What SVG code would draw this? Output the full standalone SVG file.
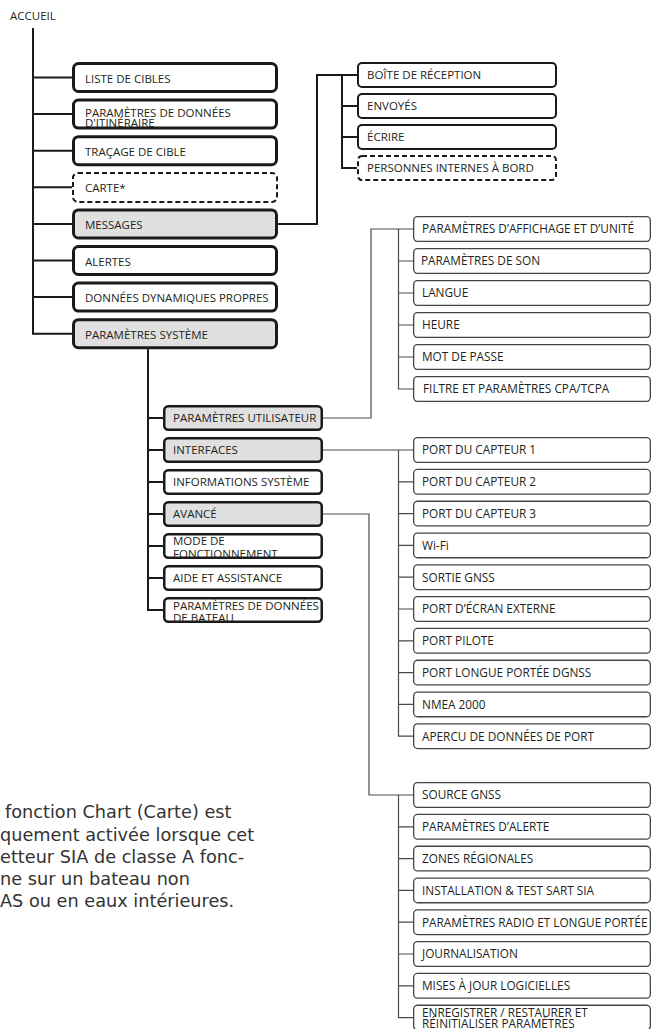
<svg xmlns="http://www.w3.org/2000/svg" width="652" height="1029" viewBox="0 0 652 1029">
<style>
.lbl{font-family:"Open Sans","Noto Sans",sans-serif;font-size:11.5px;fill:#231f20}
.rl{font-family:"Open Sans","Noto Sans",sans-serif;font-size:11.8px;fill:#231f20}
.note{font-family:"DejaVu Sans","Open Sans",sans-serif;font-size:17.7px;fill:#333333}
.mb{fill:#ffffff;stroke:#1a1a1a;stroke-width:3}
.mg{fill:#e0e0e1;stroke:#1a1a1a;stroke-width:3}
.md{fill:#ffffff;stroke:#1a1a1a;stroke-width:2;stroke-dasharray:5 3}
.sb{fill:#ffffff;stroke:#1a1a1a;stroke-width:2}
.sd{fill:#ffffff;stroke:#1a1a1a;stroke-width:2;stroke-dasharray:5 3}
.yb{fill:#ffffff;stroke:#1a1a1a;stroke-width:2.5}
.yg{fill:#e0e0e1;stroke:#1a1a1a;stroke-width:2.5}
.rb{fill:#ffffff;stroke:#444444;stroke-width:1.3}
.ck{fill:none;stroke:#1a1a1a;stroke-width:2}
.cg{fill:none;stroke:#4a4a4a;stroke-width:1.2}
</style>
<g id="connectors">
<path class="ck" d="M33 28V333.7H72M33 77.5H72M33 114.1H72M33 150.7H72M33 187.3H72M33 223.9H72M33 260.5H72M33 297.1H72"/>
<path class="ck" d="M278 223.9H317V75H357M342 75V168H357M342 106H357M342 137H357"/>
<path class="ck" d="M148 349.2V610H163M148 418H163M148 450H163M148 482H163M148 514H163M148 546H163M148 578H163"/>
<path class="cg" d="M323 418H371V229H413M398.5 229V389H413M398.5 261H413M398.5 293H413M398.5 325H413M398.5 357H413"/>
<path class="cg" d="M323 450H413M398.5 450V736.2H413M398.5 481.8H413M398.5 513.6H413M398.5 545.4H413M398.5 577.2H413M398.5 609H413M398.5 640.8H413M398.5 672.6H413M398.5 704.4H413"/>
<path class="cg" d="M323 514H369V795H413M398.5 795V1017.6H413M398.5 826.8H413M398.5 858.6H413M398.5 890.4H413M398.5 922.2H413M398.5 954H413M398.5 985.8H413"/>
</g>
<g id="accueil"><text class="lbl" x="10" y="20">ACCUEIL</text></g>
<g id="liste-cibles"><rect class="mb" x="73.5" y="63.5" width="203" height="28" rx="5"/><text class="lbl" x="85" y="82.5">LISTE DE CIBLES</text></g>
<g id="param-itineraire"><rect class="mb" x="73.5" y="100.1" width="203" height="28" rx="5"/><text class="lbl" x="85" y="116.5">PARAMÈTRES DE DONNÉES<tspan x="85" y="126.5">D'ITINÉRAIRE</tspan></text></g>
<g id="tracage"><rect class="mb" x="73.5" y="136.7" width="203" height="28" rx="5"/><text class="lbl" x="85" y="155.7">TRAÇAGE DE CIBLE</text></g>
<g id="carte"><rect class="md" x="73" y="173" width="204" height="29" rx="5"/><text class="lbl" x="85" y="192.3">CARTE*</text></g>
<g id="messages"><rect class="mg" x="73.5" y="209.9" width="203" height="28" rx="5"/><text class="lbl" x="85" y="228.9">MESSAGES</text></g>
<g id="alertes"><rect class="mb" x="73.5" y="246.5" width="203" height="28" rx="5"/><text class="lbl" x="85" y="265.5">ALERTES</text></g>
<g id="donnees-dyn"><rect class="mb" x="73.5" y="283.1" width="203" height="28" rx="5"/><text class="lbl" x="85" y="302.1">DONNÉES DYNAMIQUES PROPRES</text></g>
<g id="param-systeme"><rect class="mg" x="73.5" y="319.7" width="203" height="28" rx="5"/><text class="lbl" x="85" y="338.7">PARAMÈTRES SYSTÈME</text></g>
<g id="boite"><rect class="sb" x="358" y="63" width="198" height="24" rx="4"/><text class="lbl" x="367" y="79.3">BOÎTE DE RÉCEPTION</text></g>
<g id="envoyes"><rect class="sb" x="358" y="94" width="198" height="24" rx="4"/><text class="lbl" x="367" y="110.3">ENVOYÉS</text></g>
<g id="ecrire"><rect class="sb" x="358" y="125" width="198" height="24" rx="4"/><text class="lbl" x="367" y="141.3">ÉCRIRE</text></g>
<g id="personnes"><rect class="sd" x="358" y="156" width="198" height="24" rx="4"/><text class="lbl" x="367" y="172.3">PERSONNES INTERNES À BORD</text></g>
<g id="param-util"><rect class="yg" x="164.25" y="406.25" width="157.5" height="23.5" rx="4"/><text class="lbl" x="173" y="422.3">PARAMÈTRES UTILISATEUR</text></g>
<g id="interfaces"><rect class="yg" x="164.25" y="438.25" width="157.5" height="23.5" rx="4"/><text class="lbl" x="173" y="454.3">INTERFACES</text></g>
<g id="informations"><rect class="yb" x="164.25" y="470.25" width="157.5" height="23.5" rx="4"/><text class="lbl" x="173" y="486.3">INFORMATIONS SYSTÈME</text></g>
<g id="avance"><rect class="yg" x="164.25" y="502.25" width="157.5" height="23.5" rx="4"/><text class="lbl" x="173" y="518.3">AVANCÉ</text></g>
<g id="mode"><rect class="yb" x="164.25" y="534.25" width="157.5" height="23.5" rx="4"/><text class="lbl" x="173" y="545">MODE DE<tspan x="173" y="557.5">FONCTIONNEMENT</tspan></text></g>
<g id="aide"><rect class="yb" x="164.25" y="566.25" width="157.5" height="23.5" rx="4"/><text class="lbl" x="173" y="582.3">AIDE ET ASSISTANCE</text></g>
<g id="param-bateau"><rect class="yb" x="164.25" y="598.25" width="157.5" height="23.5" rx="4"/><text class="lbl" x="173" y="609.5">PARAMÈTRES DE DONNÉES<tspan x="173" y="622">DE BATEAU</tspan></text></g>
<g id="affichage"><rect class="rb" x="413.65" y="216.65" width="236.7" height="24.7" rx="4"/><text class="rl" x="422" y="233.3">PARAMÈTRES D’AFFICHAGE ET D’UNITÉ</text></g>
<g id="son"><rect class="rb" x="413.65" y="248.65" width="236.7" height="24.7" rx="4"/><text class="rl" x="421" y="265.3">PARAMÈTRES DE SON</text></g>
<g id="langue"><rect class="rb" x="413.65" y="280.65" width="236.7" height="24.7" rx="4"/><text class="rl" x="422" y="297.3">LANGUE</text></g>
<g id="heure"><rect class="rb" x="413.65" y="312.65" width="236.7" height="24.7" rx="4"/><text class="rl" x="422" y="329.3">HEURE</text></g>
<g id="mdp"><rect class="rb" x="413.65" y="344.65" width="236.7" height="24.7" rx="4"/><text class="rl" x="422" y="361.3">MOT DE PASSE</text></g>
<g id="filtre"><rect class="rb" x="413.65" y="376.65" width="236.7" height="24.7" rx="4"/><text class="rl" x="423" y="393.3">FILTRE ET PARAMÈTRES CPA/TCPA</text></g>
<g id="capteur1"><rect class="rb" x="413.65" y="437.65" width="236.7" height="24.7" rx="4"/><text class="rl" x="422" y="454.3">PORT DU CAPTEUR 1</text></g>
<g id="capteur2"><rect class="rb" x="413.65" y="469.45" width="236.7" height="24.7" rx="4"/><text class="rl" x="422" y="486.1">PORT DU CAPTEUR 2</text></g>
<g id="capteur3"><rect class="rb" x="413.65" y="501.25" width="236.7" height="24.7" rx="4"/><text class="rl" x="422" y="517.9">PORT DU CAPTEUR 3</text></g>
<g id="wifi"><rect class="rb" x="413.65" y="533.05" width="236.7" height="24.7" rx="4"/><text class="rl" x="422" y="549.7">Wi-Fi</text></g>
<g id="sortie-gnss"><rect class="rb" x="413.65" y="564.85" width="236.7" height="24.7" rx="4"/><text class="rl" x="422" y="581.5">SORTIE GNSS</text></g>
<g id="ecran-externe"><rect class="rb" x="413.65" y="596.65" width="236.7" height="24.7" rx="4"/><text class="rl" x="422" y="613.3">PORT D’ÉCRAN EXTERNE</text></g>
<g id="pilote"><rect class="rb" x="413.65" y="628.45" width="236.7" height="24.7" rx="4"/><text class="rl" x="422" y="645.1">PORT PILOTE</text></g>
<g id="dgnss"><rect class="rb" x="413.65" y="660.25" width="236.7" height="24.7" rx="4"/><text class="rl" x="422" y="676.9">PORT LONGUE PORTÉE DGNSS</text></g>
<g id="nmea"><rect class="rb" x="413.65" y="692.05" width="236.7" height="24.7" rx="4"/><text class="rl" x="422" y="708.7">NMEA 2000</text></g>
<g id="apercu"><rect class="rb" x="413.65" y="723.85" width="236.7" height="24.7" rx="4"/><text class="rl" x="422" y="740.5">APERCU DE DONNÉES DE PORT</text></g>
<g id="source-gnss"><rect class="rb" x="413.65" y="782.65" width="236.7" height="24.7" rx="4"/><text class="rl" x="422" y="799.3">SOURCE GNSS</text></g>
<g id="param-alerte"><rect class="rb" x="413.65" y="814.45" width="236.7" height="24.7" rx="4"/><text class="rl" x="422" y="831.1">PARAMÈTRES D’ALERTE</text></g>
<g id="zones"><rect class="rb" x="413.65" y="846.25" width="236.7" height="24.7" rx="4"/><text class="rl" x="422" y="862.9">ZONES RÉGIONALES</text></g>
<g id="sart"><rect class="rb" x="413.65" y="878.05" width="236.7" height="24.7" rx="4"/><text class="rl" x="422" y="894.7">INSTALLATION &amp; TEST SART SIA</text></g>
<g id="radio"><rect class="rb" x="413.65" y="909.85" width="236.7" height="24.7" rx="4"/><text class="rl" x="422" y="926.5">PARAMÈTRES RADIO ET LONGUE PORTÉE</text></g>
<g id="journal"><rect class="rb" x="413.65" y="941.65" width="236.7" height="24.7" rx="4"/><text class="rl" x="422" y="958.3">JOURNALISATION</text></g>
<g id="mises-a-jour"><rect class="rb" x="413.65" y="973.45" width="236.7" height="24.7" rx="4"/><text class="rl" x="422" y="990.1">MISES À JOUR LOGICIELLES</text></g>
<g id="enregistrer"><rect class="rb" x="413.65" y="1005.25" width="236.7" height="24.7" rx="4"/><text class="rl" x="422" y="1016.5">ENREGISTRER / RESTAURER ET<tspan x="422" y="1027.5">RÉINITIALISER PARAMÈTRES</tspan></text></g>
<g id="note">
<text class="note" x="5" y="818">fonction Chart (Carte) est</text>
<text class="note" x="0" y="840.5">quement activée lorsque cet</text>
<text class="note" x="0" y="862.5">etteur SIA de classe A fonc-</text>
<text class="note" x="0" y="884.5">ne sur un bateau non</text>
<text class="note" x="0" y="906.5">AS ou en eaux intérieures.</text>
</g>
</svg>
